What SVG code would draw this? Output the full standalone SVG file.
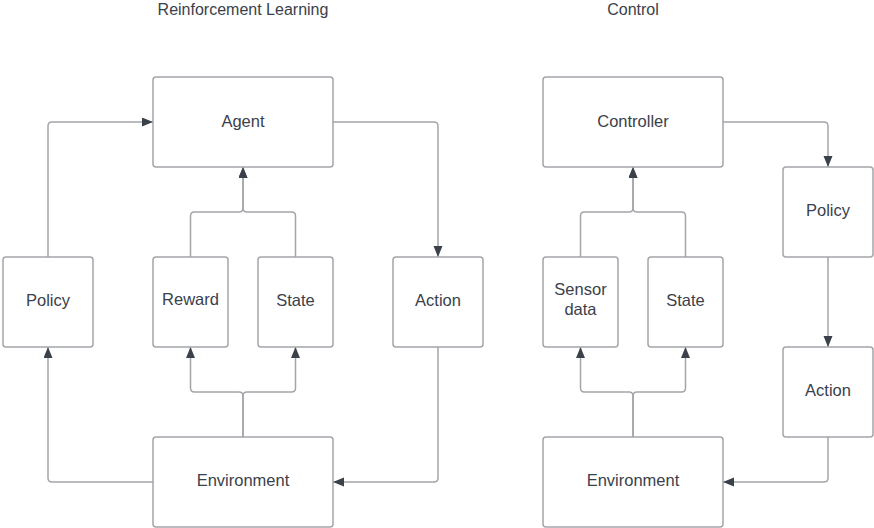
<svg xmlns="http://www.w3.org/2000/svg" width="874" height="528" viewBox="0 0 874 528">
<style>
.box{fill:#ffffff;stroke:#a3a5a9;stroke-width:1.5}
.lbl{font-family:"Liberation Sans",Arial,sans-serif;font-size:16.5px;fill:#3a414a;text-anchor:middle}
.ttl{font-family:"Liberation Sans",Arial,sans-serif;font-size:16px;fill:#3a414a;text-anchor:middle}
.c{fill:none;stroke:#a3a5a9;stroke-width:1.5}
.a{marker-end:url(#arr)}
</style>
<defs>
<marker id="arr" markerUnits="userSpaceOnUse" markerWidth="12" markerHeight="10" refX="11" refY="4.5" orient="auto">
<path d="M0,0 L11,4.5 L0,9 z" fill="#3a414a"/>
</marker>
</defs>
<rect width="874" height="528" fill="#ffffff"/>
<text class="ttl" x="243" y="15">Reinforcement Learning</text>
<text class="ttl" x="633" y="15">Control</text>
<g id="connectors">
<path class="c a" d="M48,257 V126 Q48,122 52,122 H153"/>
<path class="c a" d="M333,122 H434 Q438,122 438,126 V257"/>
<path class="c a" d="M190.5,257 V216 Q190.5,212 194.5,212 H239 Q243,212 243,208 V167"/>
<path class="c a" d="M295.5,257 V216 Q295.5,212 291.5,212 H247 Q243,212 243,208 V167"/>
<path class="c a" d="M243,437 V396 Q243,392 239,392 H194.5 Q190.5,392 190.5,388 V347"/>
<path class="c a" d="M243,437 V396 Q243,392 247,392 H291.5 Q295.5,392 295.5,388 V347"/>
<path class="c a" d="M153,482 H52 Q48,482 48,478 V347"/>
<path class="c a" d="M438,347 V478 Q438,482 434,482 H333"/>
<path class="c a" d="M723,122 H824 Q828,122 828,126 V167"/>
<path class="c a" d="M828,257 V347"/>
<path class="c a" d="M828,437 V478 Q828,482 824,482 H723"/>
<path class="c a" d="M580.5,257 V216 Q580.5,212 584.5,212 H629 Q633,212 633,208 V167"/>
<path class="c a" d="M685.5,257 V216 Q685.5,212 681.5,212 H637 Q633,212 633,208 V167"/>
<path class="c a" d="M633,437 V396 Q633,392 629,392 H584.5 Q580.5,392 580.5,388 V347"/>
<path class="c a" d="M633,437 V396 Q633,392 637,392 H681.5 Q685.5,392 685.5,388 V347"/>
</g>
<g id="agent"><rect class="box" x="153" y="77" width="180" height="90" rx="3"/><text class="lbl" x="243" y="127">Agent</text></g>
<g id="rl-policy"><rect class="box" x="3" y="257" width="90" height="90" rx="3"/><text class="lbl" x="48" y="306">Policy</text></g>
<g id="reward"><rect class="box" x="153" y="257" width="75" height="90" rx="3"/><text class="lbl" x="190.5" y="305">Reward</text></g>
<g id="rl-state"><rect class="box" x="258" y="257" width="75" height="90" rx="3"/><text class="lbl" x="295.5" y="306">State</text></g>
<g id="rl-action"><rect class="box" x="393" y="257" width="90" height="90" rx="3"/><text class="lbl" x="438" y="306">Action</text></g>
<g id="rl-environment"><rect class="box" x="153" y="437" width="180" height="90" rx="3"/><text class="lbl" x="243" y="486">Environment</text></g>
<g id="controller"><rect class="box" x="543" y="77" width="180" height="90" rx="3"/><text class="lbl" x="633" y="127">Controller</text></g>
<g id="sensor-data"><rect class="box" x="543" y="257" width="75" height="90" rx="3"/><text class="lbl" x="580.5" y="295">Sensor</text><text class="lbl" x="580.5" y="315">data</text></g>
<g id="c-state"><rect class="box" x="648" y="257" width="75" height="90" rx="3"/><text class="lbl" x="685.5" y="306">State</text></g>
<g id="c-policy"><rect class="box" x="783" y="167" width="90" height="90" rx="3"/><text class="lbl" x="828" y="216">Policy</text></g>
<g id="c-action"><rect class="box" x="783" y="347" width="90" height="90" rx="3"/><text class="lbl" x="828" y="396">Action</text></g>
<g id="c-environment"><rect class="box" x="543" y="437" width="180" height="90" rx="3"/><text class="lbl" x="633" y="486">Environment</text></g>
</svg>
